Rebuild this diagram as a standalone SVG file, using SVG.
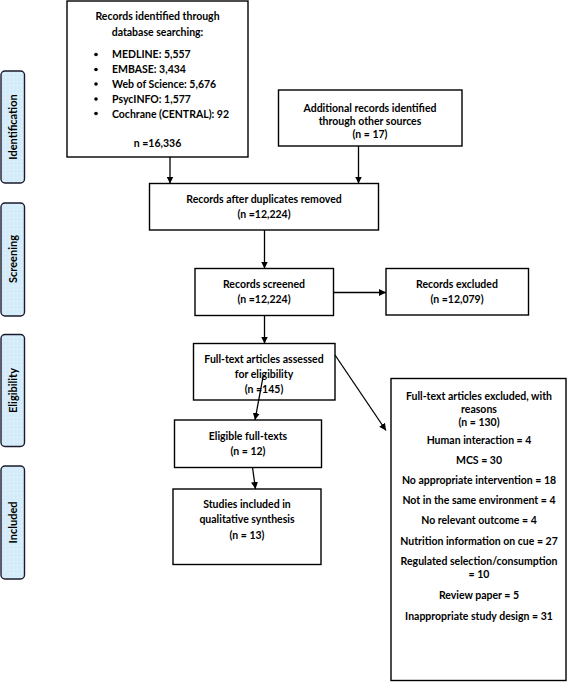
<svg xmlns="http://www.w3.org/2000/svg" width="568" height="682" viewBox="0 0 568 682">
<defs>
<pattern id="dots" width="4" height="4" patternUnits="userSpaceOnUse">
<rect width="4" height="4" fill="#d4ecfa"/>
<rect x="1" y="1" width="1" height="1" fill="#eef7fd"/>
</pattern>
<marker id="ah" viewBox="0 0 10 10" refX="10" refY="5" markerWidth="7" markerHeight="7" markerUnits="userSpaceOnUse" orient="auto">
<path d="M0,0 L10,5 L0,10 z" fill="#000"/>
</marker>
<style>
.box{fill:#fff;stroke:#000;stroke-width:1.4}
.phase{fill:url(#dots);stroke:#1a1a2e;stroke-width:1.4}
text{font-family:Lato,"Liberation Sans",sans-serif;font-weight:bold;font-size:10.5px;fill:#000}
.c{text-anchor:middle}
.pl{font-size:11px;text-anchor:middle}
.conn line{stroke:#000;stroke-width:1.3;marker-end:url(#ah)}
</style>
</defs>
<rect width="568" height="682" fill="#fff"/>

<g id="phase-identification">
<rect class="phase" x="1" y="71" width="23.5" height="112" rx="4"/>
<text class="pl" transform="translate(16.5,127) rotate(-90)">Identification</text>
</g>
<g id="phase-screening">
<rect class="phase" x="1" y="203" width="23.5" height="113" rx="4"/>
<text class="pl" transform="translate(16.5,259) rotate(-90)">Screening</text>
</g>
<g id="phase-eligibility">
<rect class="phase" x="1" y="334.5" width="23.5" height="112" rx="4"/>
<text class="pl" transform="translate(16.5,390.5) rotate(-90)">Eligibility</text>
</g>
<g id="phase-included">
<rect class="phase" x="1" y="466" width="23.5" height="113" rx="4"/>
<text class="pl" transform="translate(16.5,522.5) rotate(-90)">Included</text>
</g>

<g id="db-search">
<rect class="box" x="67" y="1" width="181" height="156"/>
<text class="c" x="157.5" y="19.5">Records identified through</text>
<text class="c" x="157.5" y="35.5">database searching:</text>
<circle cx="96" cy="54.5" r="1.8"/>
<circle cx="96" cy="69.5" r="1.8"/>
<circle cx="96" cy="84" r="1.8"/>
<circle cx="96" cy="99" r="1.8"/>
<circle cx="96" cy="113.5" r="1.8"/>
<text x="112" y="58">MEDLINE: 5,557</text>
<text x="112" y="73">EMBASE: 3,434</text>
<text x="112" y="88">Web of Science: 5,676</text>
<text x="112" y="103">PsycINFO: 1,577</text>
<text x="112" y="117.5">Cochrane (CENTRAL): 92</text>
<text class="c" x="157.5" y="147">n =16,336</text>
</g>

<g id="other-sources">
<rect class="box" x="278.5" y="90" width="183.5" height="56"/>
<text class="c" x="370" y="111.5">Additional records identified</text>
<text class="c" x="370" y="124.5">through other sources</text>
<text class="c" x="370" y="138">(n =  17)</text>
</g>

<g id="duplicates-removed">
<rect class="box" x="149.5" y="183.5" width="229" height="46.5"/>
<text class="c" x="264" y="203">Records after duplicates removed</text>
<text class="c" x="264" y="218">(n =12,224)</text>
</g>

<g id="screened">
<rect class="box" x="195" y="268.5" width="138.5" height="47"/>
<text class="c" x="264" y="287.5">Records screened</text>
<text class="c" x="264" y="303">(n =12,224)</text>
</g>

<g id="excluded">
<rect class="box" x="386" y="268.5" width="142.5" height="46.5"/>
<text class="c" x="457" y="287.5">Records excluded</text>
<text class="c" x="457" y="303">(n =12,079)</text>
</g>

<g id="fulltext-assessed">
<rect class="box" x="193.5" y="343.5" width="141.5" height="56.5"/>
<text class="c" x="264" y="363">Full-text articles assessed</text>
<text class="c" x="264" y="378">for eligibility</text>
<text class="c" x="264" y="393">(n =145)</text>
</g>

<g id="eligible">
<rect class="box" x="174.5" y="420" width="147" height="47.5"/>
<text class="c" x="248" y="439.5">Eligible full-texts</text>
<text class="c" x="248" y="455">(n = 12)</text>
</g>

<g id="included">
<rect class="box" x="173" y="489" width="148" height="75.5"/>
<text class="c" x="247" y="508">Studies included in</text>
<text class="c" x="247" y="523">qualitative synthesis</text>
<text class="c" x="247" y="538.5">(n = 13)</text>
</g>

<g id="fulltext-excluded">
<rect class="box" x="391" y="378.5" width="175" height="302"/>
<text class="c" x="479" y="400">Full-text articles excluded, with</text>
<text class="c" x="479" y="413">reasons</text>
<text class="c" x="479" y="426">(n = 130)</text>
<text class="c" x="479" y="444">Human interaction = 4</text>
<text class="c" x="479" y="463.5">MCS = 30</text>
<text class="c" x="479" y="483.5">No appropriate intervention = 18</text>
<text class="c" x="479" y="503.5">Not in the same environment = 4</text>
<text class="c" x="479" y="524">No relevant outcome = 4</text>
<text class="c" x="479" y="544.5">Nutrition information on cue = 27</text>
<text class="c" x="479" y="565">Regulated selection/consumption</text>
<text class="c" x="479" y="578">= 10</text>
<text class="c" x="479" y="599">Review paper = 5</text>
<text class="c" x="479" y="619.5">Inappropriate study design = 31</text>
</g>

<g id="connectors" class="conn">
<line x1="170" y1="157" x2="170" y2="183.5"/>
<line x1="358.5" y1="146" x2="358.5" y2="183.5"/>
<line x1="264.5" y1="230" x2="264.5" y2="268.5"/>
<line x1="333.5" y1="292.5" x2="386" y2="292.5"/>
<line x1="264.5" y1="315.5" x2="264.5" y2="343.5"/>
<line x1="335" y1="355" x2="386" y2="430.5"/>
<line x1="263" y1="377" x2="255" y2="420"/>
<line x1="252.5" y1="467.5" x2="255.5" y2="489"/>
</g>
</svg>
